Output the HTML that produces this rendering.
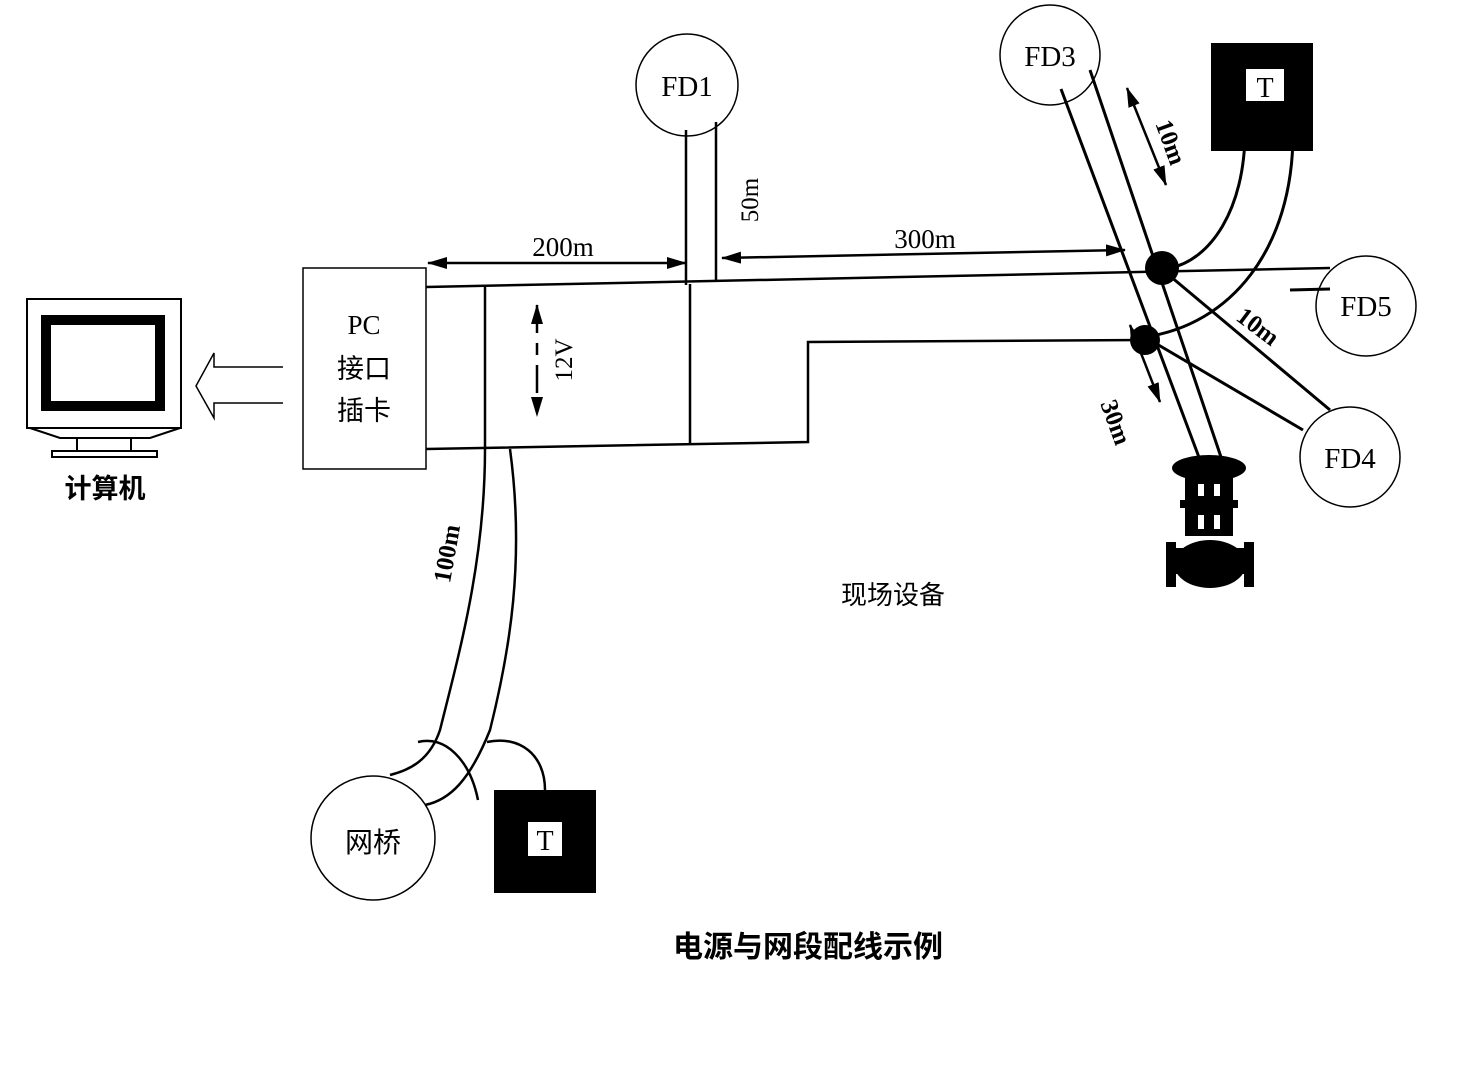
<!DOCTYPE html>
<html><head><meta charset="utf-8"><style>
body{margin:0;background:#fff}
svg{display:block}
text{font-family:"Liberation Serif","Noto Serif CJK SC",serif;fill:#000}
.c{font-family:"Liberation Sans","Noto Sans CJK SC",sans-serif}
</style></head><body>
<svg width="1458" height="1081" viewBox="0 0 1458 1081" xmlns="http://www.w3.org/2000/svg">
<defs>
<marker id="b" markerWidth="20" markerHeight="12" refX="19" refY="6" orient="auto-start-reverse" markerUnits="userSpaceOnUse"><path d="M0,0 L20,6 L0,12 z" fill="#000"/></marker></defs>
<g fill="none" stroke="#000" stroke-width="2.5">
<!-- computer -->
<rect x="27" y="299" width="154" height="129" stroke-width="2"/>
<rect x="46" y="320" width="114" height="86" stroke-width="10"/>
<path d="M30,428 L60,438 L150,438 L180,428" stroke-width="2"/>
<rect x="77" y="438" width="54" height="13" stroke-width="2"/>
<rect x="52" y="451" width="105" height="6" stroke-width="2"/>
<path d="M283,367 L214,367 L214,353 L196,386 L214,418 L214,403 L283,403" stroke-width="1.5"/>
<rect x="303" y="268" width="123" height="201" stroke-width="1.5"/>
<!-- bus -->
<path d="M426,287 L1330,268"/>
<path d="M426,449 L808,442 L808,342 L1145,340"/>
<path d="M485,286 L485,449 M690,284 L690,444"/>
<path d="M686,130 L686,285 M716,122 L716,280"/>
<path d="M428,263 L686,263" marker-end="url(#b)" marker-start="url(#b)"/>
<path d="M722,258 L1125,250" marker-end="url(#b)" marker-start="url(#b)"/>
<path d="M537,305 L537,416" marker-end="url(#b)" marker-start="url(#b)" stroke-dasharray="28,10,12,10,28"/>
<circle cx="687" cy="85" r="51" stroke-width="1.5"/>
<!-- right -->
<circle cx="1050" cy="55" r="50" stroke-width="1.5"/>
<circle cx="1366" cy="306" r="50" stroke-width="1.5"/>
<circle cx="1350" cy="457" r="50" stroke-width="1.5"/>
<path d="M1061,89 L1200,460 M1090,70 L1222,460" stroke-width="3"/>
<path d="M1245,131 C1245,210 1210,260 1170,268 M1293,133 C1293,250 1230,325 1145,337" stroke-width="3"/>
<path d="M1170,276 L1330,410 M1150,340 L1303,430 M1290,290 L1330,289" stroke-width="3"/>
<path d="M1127,88 L1166,185" marker-end="url(#b)" marker-start="url(#b)"/>
<path d="M1130,325 L1160,402" marker-end="url(#b)" marker-start="url(#b)"/>
<!-- bottom left -->
<path d="M485,449 C485,560 460,650 440,730 C430,760 410,770 390,775" stroke-width="2.5"/>
<path d="M510,449 C525,560 510,650 490,730 C470,780 450,800 425,805" stroke-width="2.5"/>
<path d="M418,742 C445,735 470,760 478,800" stroke-width="2.5"/>
<path d="M487,742 C520,735 545,755 545,790" stroke-width="2.5"/>
<circle cx="373" cy="838" r="62" stroke-width="1.5"/>
</g>
<circle cx="1162" cy="268" r="17" fill="#000"/>
<circle cx="1145" cy="340" r="15" fill="#000"/>
<rect x="1211" y="43" width="102" height="108" fill="#000"/>
<rect x="1246" y="69" width="38" height="32" fill="#fff"/>
<rect x="494" y="790" width="102" height="103" fill="#000"/>
<rect x="528" y="822" width="34" height="34" fill="#fff"/>
<!-- valve -->
<g fill="#000">
<ellipse cx="1209" cy="468" rx="37" ry="13"/>
<rect x="1185" y="478" width="48" height="58"/>
<rect x="1180" y="500" width="58" height="8"/>
<rect x="1166" y="542" width="10" height="45"/>
<rect x="1244" y="542" width="10" height="45"/>
<ellipse cx="1210" cy="564" rx="36" ry="24"/>
<rect x="1176" y="548" width="68" height="26"/>
</g>
<g fill="#fff"><rect x="1198" y="484" width="6" height="12"/><rect x="1214" y="484" width="6" height="12"/><rect x="1198" y="515" width="6" height="14"/><rect x="1214" y="515" width="6" height="14"/></g>
<!-- text -->
<text x="687" y="96" font-size="29" text-anchor="middle">FD1</text>
<text x="1050" y="66" font-size="29" text-anchor="middle">FD3</text>
<text x="1366" y="316" font-size="29" text-anchor="middle">FD5</text>
<text x="1350" y="468" font-size="29" text-anchor="middle">FD4</text>
<text x="1265" y="97" font-size="28" text-anchor="middle">T</text>
<text x="545" y="850" font-size="28" text-anchor="middle">T</text>
<text x="563" y="256" font-size="27" text-anchor="middle">200m</text>
<text x="925" y="248" font-size="27" text-anchor="middle">300m</text>
<text x="0" y="0" font-size="25" text-anchor="middle" transform="translate(758,200) rotate(-90)">50m</text>
<text x="0" y="0" font-size="25" text-anchor="middle" transform="translate(572,360) rotate(-90)">12V</text>
<text x="0" y="0" font-size="25" font-weight="bold" text-anchor="middle" transform="translate(1163,145) rotate(70)">10m</text>
<text x="0" y="0" font-size="25" font-weight="bold" text-anchor="middle" transform="translate(1253,333) rotate(37)">10m</text>
<text x="0" y="0" font-size="25" font-weight="bold" text-anchor="middle" transform="translate(1108,425) rotate(70)">30m</text>
<text x="0" y="0" font-size="25" font-weight="bold" text-anchor="middle" transform="translate(455,555) rotate(-80)">100m</text>
<text x="364" y="334" font-size="27" text-anchor="middle">PC</text>
<text x="364" y="378" font-size="27" text-anchor="middle" class="c">接口</text>
<text x="364" y="420" font-size="27" text-anchor="middle" class="c">插卡</text>
<text x="105" y="498" font-size="27" font-weight="bold" text-anchor="middle" class="c">计算机</text>
<text x="373" y="852" font-size="28" text-anchor="middle" class="c">网桥</text>
<text x="893" y="604" font-size="26" text-anchor="middle" class="c">现场设备</text>
<text x="808" y="957" font-size="30" font-weight="bold" text-anchor="middle" class="c">电源与网段配线示例</text>
</svg>
</body></html>
